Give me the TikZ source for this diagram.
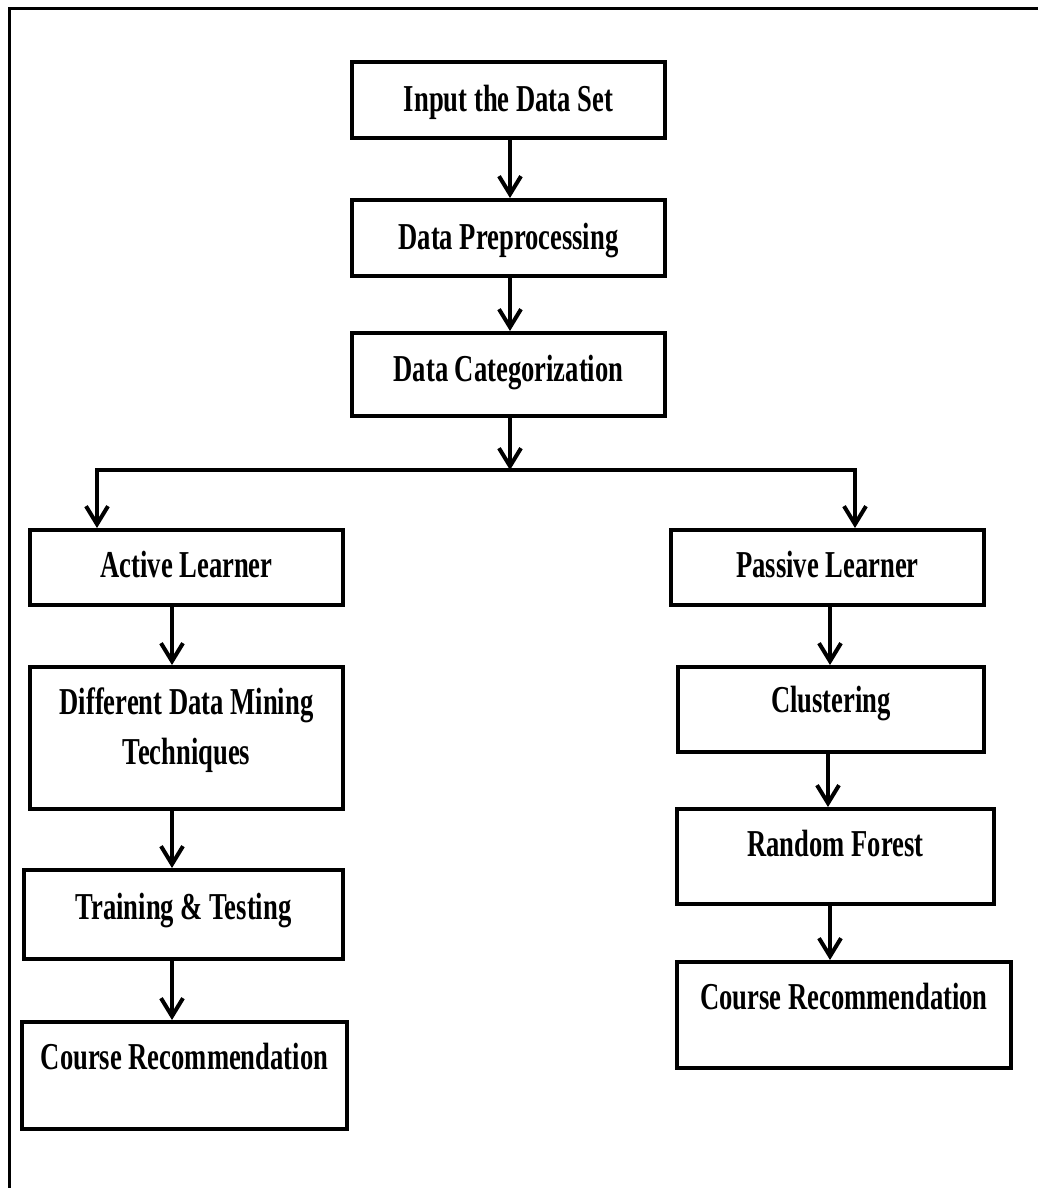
\documentclass[tikz,border=0pt]{standalone}
\usepackage{fontspec}
\setmainfont{Liberation Serif}[FakeStretch=0.7]
\usetikzlibrary{arrows.meta}

\begin{document}
\begin{tikzpicture}[x=1pt, y=-1pt,
    stage/.style={draw, line width=4pt, anchor=north, inner xsep=0pt, inner ysep=0pt,
      align=center, font=\fontsize{38}{50}\selectfont\bfseries},
    arr/.style={line width=4pt, -{Straight Barb[length=18pt, width=22pt]}}]
    \useasboundingbox (0,0) rectangle (1038,1188);
    \draw[line width=3pt] (9,1188) -- (9,9) -- (1038,9);

    % main line
    \node[stage, minimum width=313pt, text height=49.5pt, text depth=26.5pt] (input) at (508.5,60) {Input the Data Set};
    \node[stage, minimum width=313pt, text height=49.5pt, text depth=26.5pt] (prep) at (508.5,198) {Data Preprocessing};
    \node[stage, minimum width=313pt, text height=48.5pt, text depth=34.5pt] (categ) at (508.5,331) {Data Categorization};
    \coordinate (split) at (510,470);

    % active branch
    \node[stage, minimum width=313pt, text height=47.5pt, text depth=27.5pt] (active) at (186.5,528) {Active Learner};
    \node[stage, minimum width=313pt, text height=97.5pt, text depth=44.5pt] (mining) at (186.5,665) {Different Data Mining\\Techniques};
    \node[stage, minimum width=319pt, text height=49.5pt, text depth=39.5pt] (train) at (183.5,868) {Training \& Testing};
    \node[stage, minimum width=325pt, text height=47.5pt, text depth=59.5pt] (courseA) at (184.5,1020) {Course Recommendation};

    % passive branch
    \node[stage, minimum width=313pt, text height=47.5pt, text depth=27.5pt] (passive) at (827.5,528) {Passive Learner};
    \node[stage, minimum width=306pt, text height=45.5pt, text depth=39.5pt] (cluster) at (831,665) {Clustering};
    \node[stage, minimum width=317pt, text height=47.5pt, text depth=47.5pt] (forest) at (835.5,807) {Random Forest};
    \node[stage, minimum width=334pt, text height=47.5pt, text depth=58.5pt] (courseP) at (844,960) {Course Recommendation};

    \draw[arr] ([xshift=1.5pt]input.south) -- ([xshift=1.5pt]prep.north);
    \draw[arr] ([xshift=1.5pt]prep.south) -- ([xshift=1.5pt]categ.north);
    \draw[arr] ([xshift=1.5pt]categ.south) -- (split);
    \draw[arr] (split) -| ([xshift=-89.5pt]active.north);
    \draw[arr] (split) -| ([xshift=27.5pt]passive.north);

    \draw[arr] ([xshift=-14.5pt]active.south) -- ([xshift=-14.5pt]mining.north);
    \draw[arr] ([xshift=-14.5pt]mining.south) -- ([xshift=-11.5pt]train.north);
    \draw[arr] ([xshift=-11.5pt]train.south) -- ([xshift=-12.5pt]courseA.north);

    \draw[arr] ([xshift=2.5pt]passive.south) -- ([xshift=-1pt]cluster.north);
    \draw[arr] ([xshift=-3pt]cluster.south) -- ([xshift=-7.5pt]forest.north);
    \draw[arr] ([xshift=-5.5pt]forest.south) -- ([xshift=-14pt]courseP.north);
\end{tikzpicture}
\end{document}
